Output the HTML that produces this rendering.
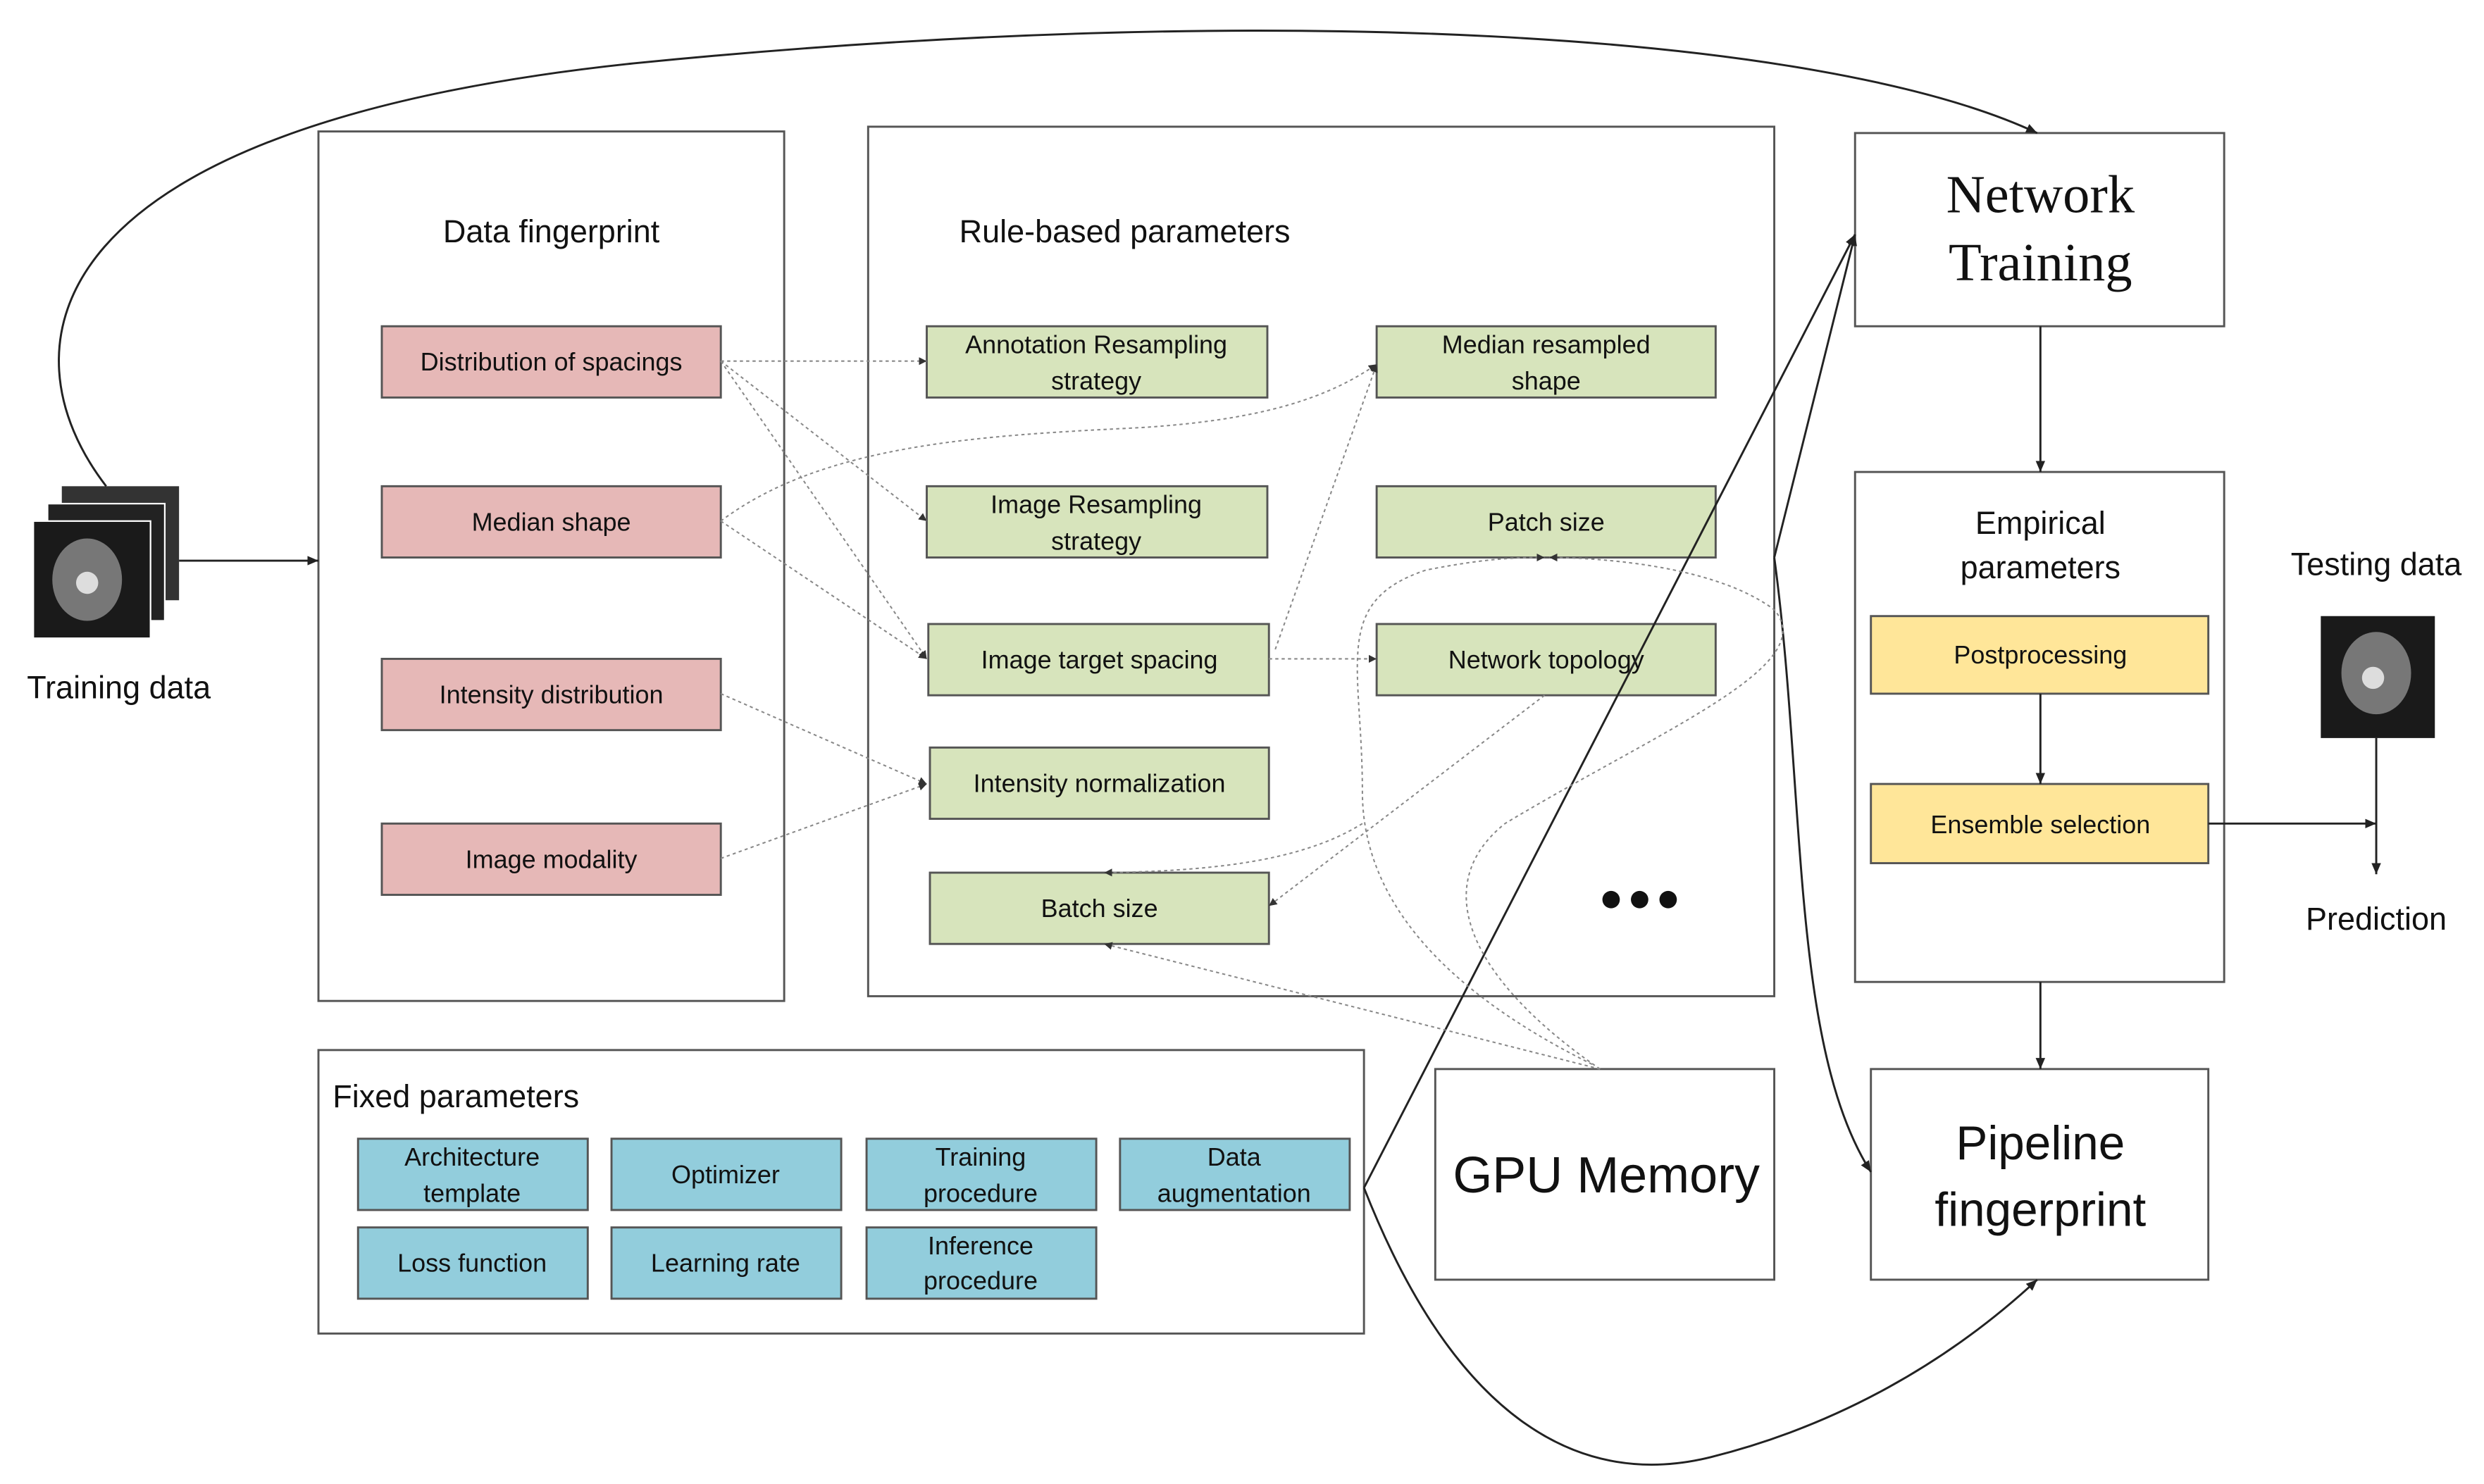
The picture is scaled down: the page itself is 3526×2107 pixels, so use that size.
<!DOCTYPE html>
<html><head><meta charset="utf-8"><style>
html,body{margin:0;padding:0;background:#fff;}
svg{display:block;}
text{font-family:"Liberation Sans",sans-serif;fill:#111;}
.bx{stroke:#555;stroke-width:1.3;}
.dot{fill:none;stroke:#888;stroke-width:0.9;stroke-dasharray:2,2;}
.sol{fill:none;stroke:#222;stroke-width:1.3;}
</style></head><body>
<svg width="3526" height="2107" viewBox="0 0 1568 937" xmlns="http://www.w3.org/2000/svg">
<defs>
<marker id="a" markerWidth="8" markerHeight="8" refX="7" refY="4" orient="auto" markerUnits="userSpaceOnUse"><path d="M0,1 L7,4 L0,7 z" fill="#222"/></marker>
<marker id="b" markerWidth="6" markerHeight="6" refX="5" refY="3" orient="auto" markerUnits="userSpaceOnUse"><path d="M0,0.5 L5,3 L0,5.5 z" fill="#333"/></marker>
</defs>
<rect width="1568" height="937" fill="#fff"/>

<!-- containers -->
<rect x="201" y="83" width="294" height="549" fill="none" class="bx"/>
<text x="348" y="153" font-size="20" text-anchor="middle">Data fingerprint</text>
<rect x="548" y="80" width="572" height="549" fill="none" class="bx"/>
<text x="710" y="153" font-size="20" text-anchor="middle">Rule-based parameters</text>

<!-- pink -->
<g font-size="16" text-anchor="middle">
<rect x="241" y="206" width="214" height="45" fill="#e6b8b7" class="bx"/><text x="348" y="234">Distribution of spacings</text>
<rect x="241" y="307" width="214" height="45" fill="#e6b8b7" class="bx"/><text x="348" y="335">Median shape</text>
<rect x="241" y="416" width="214" height="45" fill="#e6b8b7" class="bx"/><text x="348" y="444">Intensity distribution</text>
<rect x="241" y="520" width="214" height="45" fill="#e6b8b7" class="bx"/><text x="348" y="548">Image modality</text>
</g>

<!-- green -->
<g font-size="16" text-anchor="middle">
<rect x="585" y="206" width="215" height="45" fill="#d7e4bc" class="bx"/><text x="692" y="223">Annotation Resampling</text><text x="692" y="246">strategy</text>
<rect x="585" y="307" width="215" height="45" fill="#d7e4bc" class="bx"/><text x="692" y="324">Image Resampling</text><text x="692" y="347">strategy</text>
<rect x="586" y="394" width="215" height="45" fill="#d7e4bc" class="bx"/><text x="694" y="422">Image target spacing</text>
<rect x="587" y="472" width="214" height="45" fill="#d7e4bc" class="bx"/><text x="694" y="500">Intensity normalization</text>
<rect x="587" y="551" width="214" height="45" fill="#d7e4bc" class="bx"/><text x="694" y="579">Batch size</text>
<rect x="869" y="206" width="214" height="45" fill="#d7e4bc" class="bx"/><text x="976" y="223">Median resampled</text><text x="976" y="246">shape</text>
<rect x="869" y="307" width="214" height="45" fill="#d7e4bc" class="bx"/><text x="976" y="335">Patch size</text>
<rect x="869" y="394" width="214" height="45" fill="#d7e4bc" class="bx"/><text x="976" y="422">Network topology</text>
</g>
<circle cx="1017" cy="568" r="5.5" fill="#111"/><circle cx="1035" cy="568" r="5.5" fill="#111"/><circle cx="1053" cy="568" r="5.5" fill="#111"/>

<!-- fixed -->
<rect x="201" y="663" width="660" height="179" fill="none" class="bx"/>
<text x="210" y="699" font-size="20">Fixed parameters</text>
<g font-size="16" text-anchor="middle">
<rect x="226" y="719" width="145" height="45" fill="#92cddc" class="bx"/><text x="298" y="736">Architecture</text><text x="298" y="759">template</text>
<rect x="386" y="719" width="145" height="45" fill="#92cddc" class="bx"/><text x="458" y="747">Optimizer</text>
<rect x="547" y="719" width="145" height="45" fill="#92cddc" class="bx"/><text x="619" y="736">Training</text><text x="619" y="759">procedure</text>
<rect x="707" y="719" width="145" height="45" fill="#92cddc" class="bx"/><text x="779" y="736">Data</text><text x="779" y="759">augmentation</text>
<rect x="226" y="775" width="145" height="45" fill="#92cddc" class="bx"/><text x="298" y="803">Loss function</text>
<rect x="386" y="775" width="145" height="45" fill="#92cddc" class="bx"/><text x="458" y="803">Learning rate</text>
<rect x="547" y="775" width="145" height="45" fill="#92cddc" class="bx"/><text x="619" y="792">Inference</text><text x="619" y="814">procedure</text>
</g>

<!-- GPU -->
<rect x="906" y="675" width="214" height="133" fill="none" class="bx"/>
<text x="1014" y="753" font-size="32" text-anchor="middle">GPU Memory</text>

<!-- Network training -->
<rect x="1171" y="84" width="233" height="122" fill="none" class="bx"/>
<text x="1288" y="134" font-size="34" text-anchor="middle" style="font-family:'Liberation Serif',serif">Network</text>
<text x="1288" y="177" font-size="34" text-anchor="middle" style="font-family:'Liberation Serif',serif">Training</text>

<!-- Empirical -->
<rect x="1171" y="298" width="233" height="322" fill="none" class="bx"/>
<text x="1288" y="337" font-size="20" text-anchor="middle">Empirical</text>
<text x="1288" y="365" font-size="20" text-anchor="middle">parameters</text>
<rect x="1181" y="389" width="213" height="49" fill="#ffe699" class="bx"/><text x="1288" y="419" font-size="16" text-anchor="middle">Postprocessing</text>
<rect x="1181" y="495" width="213" height="50" fill="#ffe699" class="bx"/><text x="1288" y="526" font-size="16" text-anchor="middle">Ensemble selection</text>

<!-- Pipeline -->
<rect x="1181" y="675" width="213" height="133" fill="none" class="bx"/>
<text x="1288" y="732" font-size="30" text-anchor="middle">Pipeline</text>
<text x="1288" y="774" font-size="30" text-anchor="middle">fingerprint</text>

<!-- training image -->
<rect x="39" y="307" width="74" height="72" fill="#333"/>
<rect x="30" y="318" width="74" height="74" fill="#222" stroke="#fff" stroke-width="1"/>
<rect x="21" y="329" width="74" height="74" fill="#1a1a1a" stroke="#fff" stroke-width="1"/>
<ellipse cx="55" cy="366" rx="22" ry="26" fill="#777"/><circle cx="55" cy="368" r="7" fill="#ddd"/>
<text x="75" y="441" font-size="20" text-anchor="middle">Training data</text>

<!-- testing image -->
<rect x="1465" y="389" width="72" height="77" fill="#1a1a1a"/>
<ellipse cx="1500" cy="425" rx="22" ry="26" fill="#777"/><circle cx="1498" cy="428" r="7" fill="#ddd"/>
<text x="1500" y="363" font-size="20" text-anchor="middle">Testing data</text>
<text x="1500" y="587" font-size="20" text-anchor="middle">Prediction</text>

<!-- solid connectors -->
<path class="sol" d="M67,307 C0,220 20,80 400,40 C800,0 1150,20 1286,84" marker-end="url(#a)"/>
<path class="sol" d="M113,354 L201,354" marker-end="url(#a)"/>
<path class="sol" d="M1288,206 L1288,298" marker-end="url(#a)"/>
<path class="sol" d="M1288,438 L1288,495" marker-end="url(#a)"/>
<path class="sol" d="M1288,620 L1288,675" marker-end="url(#a)"/>
<path class="sol" d="M1394,520 L1500,520" marker-end="url(#a)"/>
<path class="sol" d="M1500,466 L1500,552" marker-end="url(#a)"/>
<path class="sol" d="M861,750 L1171,148" marker-end="url(#a)"/>
<path class="sol" d="M1120,352 L1171,148" marker-end="url(#a)"/>
<path class="sol" d="M1120,352 C1140,500 1130,660 1181,740" marker-end="url(#a)"/>
<path class="sol" d="M861,750 C920,900 1000,940 1080,920 C1160,900 1230,860 1286,808" marker-end="url(#a)"/>

<!-- dotted connectors -->
<path class="dot" d="M455,228 L585,228" marker-end="url(#b)"/>
<path class="dot" d="M455,228 L585,329" marker-end="url(#b)"/>
<path class="dot" d="M455,228 L585,416" marker-end="url(#b)"/>
<path class="dot" d="M455,329 C520,280 620,275 720,270 C800,265 840,250 869,230" marker-end="url(#b)"/>
<path class="dot" d="M455,329 L585,416" marker-end="url(#b)"/>
<path class="dot" d="M455,438 L585,495" marker-end="url(#b)"/>
<path class="dot" d="M455,542 L585,495" marker-end="url(#b)"/>
<path class="dot" d="M801,416 L869,416" marker-end="url(#b)"/>
<path class="dot" d="M805,410 L869,230" marker-end="url(#b)"/>
<path class="dot" d="M975,439 L801,572" marker-end="url(#b)"/>
<path class="dot" d="M1010,675 L697,596" marker-end="url(#b)"/>
<path class="dot" d="M1005,672 C900,620 860,560 860,500 C860,420 840,380 900,360 C940,352 960,352 975,352" marker-end="url(#b)"/>
<path class="dot" d="M1010,675 C930,620 900,560 950,520 C1050,460 1150,420 1120,385 C1080,355 1000,352 978,352" marker-end="url(#b)"/>
<path class="dot" d="M860,520 C820,545 760,550 697,551" marker-end="url(#b)"/>
</svg>
</body></html>
